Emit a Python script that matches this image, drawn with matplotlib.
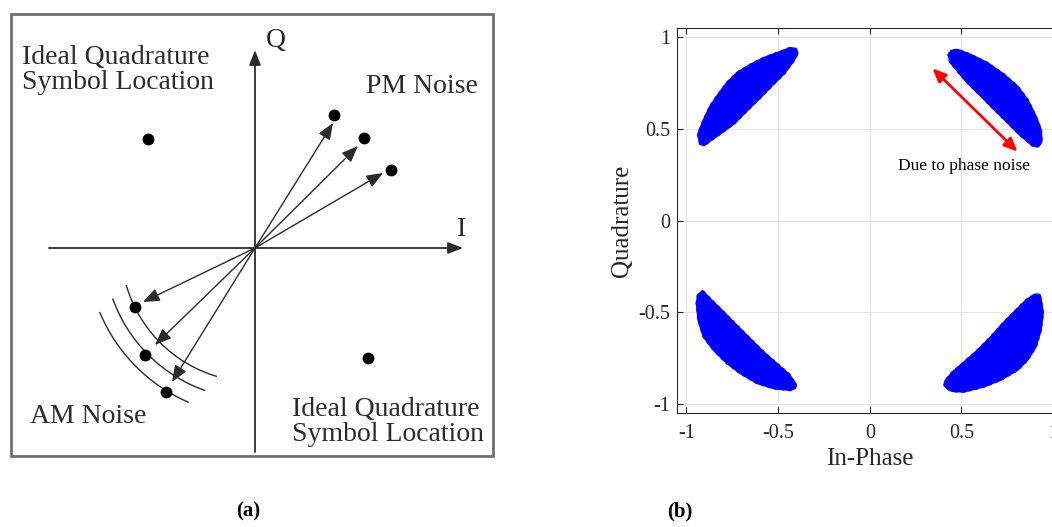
import matplotlib
matplotlib.use('Agg')
import matplotlib.pyplot as plt
from matplotlib.patches import Rectangle, Arc

plt.rcParams['font.family'] = ['Liberation Serif', 'DejaVu Serif']
plt.rcParams['axes.unicode_minus'] = False

# ---- panel (a): sketch, in picture pixels ----
origin = (255, 248)
box = (11, 14, 493, 456)
i_axis = (49, 463)      # x from/to at origin row
q_axis = (452, 50)      # y from/to at origin column

ideal_x = [148, 368]
ideal_y = [139, 358]

pm_dot_x = [334, 364, 391]
pm_dot_y = [115, 138, 170]
pm_tip_x = [333, 358, 383]
pm_tip_y = [123, 146, 173]

am_dot_x = [135, 145, 166]
am_dot_y = [307, 355, 392]
am_tip_x = [143, 155, 172]
am_tip_y = [302, 345, 382]

arc_radius = [134, 151, 168]
arc_from = [106.5, 109.2, 113.2]
arc_to = [164.0, 160.5, 157.6]

# ---- panel (b): constellation clusters (outlines) ----
tl_x = [-0.924, -0.935, -0.904, -0.869, -0.833, -0.778, -0.724, -0.651, -0.578, -0.505, -0.433,
        -0.405, -0.396, -0.415, -0.469, -0.524, -0.596, -0.669, -0.742, -0.815, -0.869, -0.904]
tl_y = [0.422, 0.470, 0.549, 0.622, 0.676, 0.750, 0.804, 0.849, 0.886, 0.913, 0.941,
        0.935, 0.915, 0.877, 0.804, 0.750, 0.676, 0.604, 0.531, 0.477, 0.440, 0.413]

tr_x = [0.432, 0.445, 0.477, 0.549, 0.640, 0.731, 0.804, 0.859, 0.904, 0.931, 0.935, 0.915,
        0.886, 0.822, 0.750, 0.676, 0.604, 0.531, 0.477, 0.440]
tr_y = [0.904, 0.925, 0.931, 0.904, 0.859, 0.795, 0.731, 0.658, 0.567, 0.495, 0.430, 0.405,
        0.413, 0.468, 0.540, 0.613, 0.686, 0.758, 0.822, 0.867]

bl_x = [-0.935, -0.913, -0.869, -0.796, -0.724, -0.651, -0.578, -0.505, -0.442, -0.405, -0.410,
        -0.433, -0.522, -0.613, -0.704, -0.778, -0.851, -0.905, -0.933, -0.942]
bl_y = [-0.410, -0.387, -0.433, -0.505, -0.578, -0.651, -0.723, -0.787, -0.842, -0.896, -0.915,
        -0.924, -0.915, -0.887, -0.833, -0.778, -0.705, -0.633, -0.542, -0.451]

br_x = [0.925, 0.904, 0.859, 0.804, 0.731, 0.658, 0.586, 0.513, 0.450, 0.413, 0.410, 0.422,
        0.450, 0.513, 0.622, 0.713, 0.804, 0.859, 0.904, 0.931, 0.942, 0.931]
br_y = [-0.410, -0.405, -0.433, -0.487, -0.560, -0.642, -0.714, -0.778, -0.833, -0.878, -0.900,
        -0.915, -0.930, -0.933, -0.905, -0.869, -0.815, -0.760, -0.687, -0.596, -0.505, -0.433]

ticks = [-1, -0.5, 0, 0.5, 1]
tick_labels = ['-1', '-0.5', '0', '0.5', '1']
noise_arrow = [(0.342, 0.831), (0.806, 0.376)]

fig = plt.figure(figsize=(10.52, 5.27), dpi=100)

ax = fig.add_axes([0, 0, 1, 1])
ax.set_xlim(0, 1052)
ax.set_ylim(527, 0)
ax.axis('off')

ink = '#2b2b2b'
ax.add_patch(Rectangle((box[0], box[1]), box[2] - box[0], box[3] - box[1],
                       fill=False, edgecolor='#707070', lw=2))

axis_arrow = dict(arrowstyle='-|>,head_length=0.9,head_width=0.35', color=ink, lw=1.3,
                  shrinkA=0, shrinkB=0)
ax.annotate('', xy=(i_axis[1], origin[1]), xytext=(i_axis[0], origin[1]), arrowprops=axis_arrow)
ax.annotate('', xy=(origin[0], q_axis[1]), xytext=(origin[0], q_axis[0]), arrowprops=axis_arrow)

vec_arrow = dict(arrowstyle='-|>,head_length=1.0,head_width=0.4', color=ink, lw=1.0,
                 shrinkA=0, shrinkB=0)
for x, y in zip(pm_tip_x + am_tip_x, pm_tip_y + am_tip_y):
    ax.annotate('', xy=(x, y), xytext=origin, arrowprops=vec_arrow)

for r, t1, t2 in zip(arc_radius, arc_from, arc_to):
    ax.add_patch(Arc(origin, 2 * r, 2 * r, theta1=t1, theta2=t2, color=ink, lw=1.0))

ax.plot(ideal_x + pm_dot_x + am_dot_x, ideal_y + pm_dot_y + am_dot_y, 'o',
        color='black', markersize=7.5, ls='none')

tkw = dict(fontsize=20, color=ink, va='baseline', ha='left')
ax.text(22, 64, 'Ideal Quadrature', **tkw)
ax.text(22, 89, 'Symbol Location', **tkw)
ax.text(366, 93, 'PM Noise', **tkw)
ax.text(30, 423, 'AM Noise', **tkw)
ax.text(292, 416, 'Ideal Quadrature', **tkw)
ax.text(292, 441, 'Symbol Location', **tkw)
ax.text(266, 47, 'Q', **tkw)
ax.text(457, 236, 'I', **tkw)

ax.text(248, 511, '(a)', fontsize=15, fontweight='bold', ha='center', va='center')
ax.text(680, 511, '(b)', fontsize=15, fontweight='bold', ha='center', va='center')

# ---- panel (b) ----
ax2 = fig.add_axes([677.3 / 1052, 1 - 412.7 / 527, 385 / 1052, 384.4 / 527])
for cx, cy in [(tl_x, tl_y), (tr_x, tr_y), (bl_x, bl_y), (br_x, br_y)]:
    ax2.fill(cx, cy, color='#0000ff', lw=2, joinstyle='round', zorder=3)
    # speckled rim of the point cloud
    ax2.plot(cx + cx[:1], cy + cy[:1], color='#0000ff', lw=2.5, alpha=0.8,
             ls=(0, (0.4, 1.6)), dash_capstyle='round', zorder=3)

ax2.annotate('', xy=noise_arrow[0], xytext=noise_arrow[1],
             arrowprops=dict(arrowstyle='<|-|>,head_length=0.8,head_width=0.35',
                             color='#ff0000', lw=2, shrinkA=0, shrinkB=0), zorder=4)
ax2.text(0.513, 0.277, 'Due to phase noise', fontsize=12.5, ha='center', va='baseline',
         color='black')

ax2.set_xlim(-1.05, 1.05)
ax2.set_ylim(-1.05, 1.05)
ax2.set_xticks(ticks)
ax2.set_xticklabels(tick_labels)
ax2.set_yticks(ticks)
ax2.set_yticklabels(tick_labels)
ax2.grid(True, color='#e4e4e4', lw=0.8)
ax2.set_axisbelow(True)
ax2.tick_params(direction='in', top=True, right=True, length=4, width=0.8,
                colors='#262626', labelsize=14.5)
ax2.tick_params(axis='x', pad=8)
ax2.tick_params(axis='y', pad=5)
for s in ax2.spines.values():
    s.set_color('#262626')
    s.set_linewidth(0.8)
ax2.set_xlabel('In-Phase', fontsize=18, labelpad=4, color='#262626')
ax2.set_ylabel('Quadrature', fontsize=18, labelpad=4, color='#262626')

fig.savefig('out.png', dpi=100)
